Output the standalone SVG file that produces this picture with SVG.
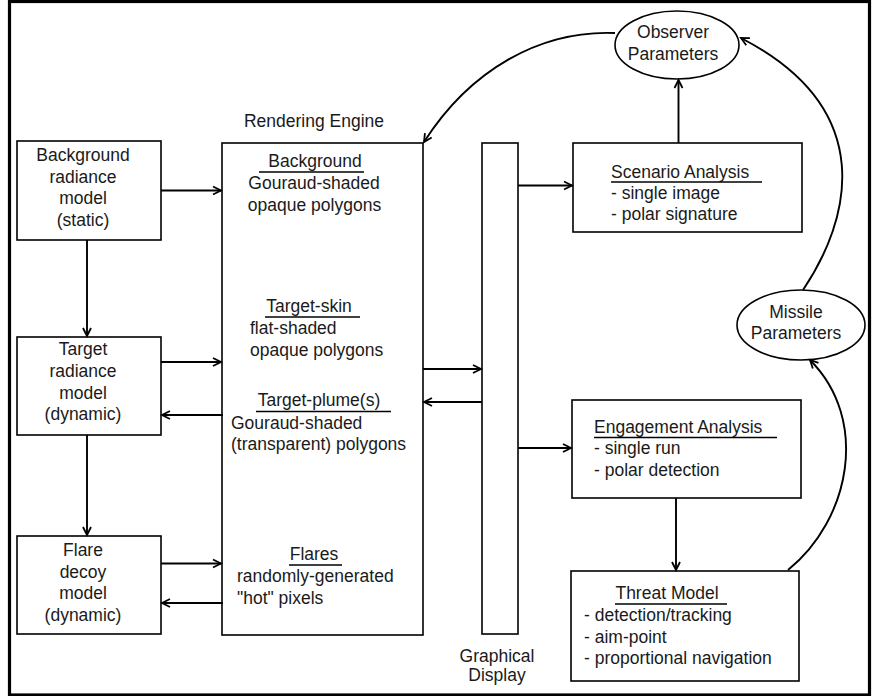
<svg xmlns="http://www.w3.org/2000/svg" width="873" height="696" viewBox="0 0 873 696">
<style>
.box{fill:#fff;stroke:#000;stroke-width:1.6}
.t{font-family:"Liberation Sans",Arial,sans-serif;font-size:17.5px;fill:#1a1a1a}
.m{text-anchor:middle}
.ul{stroke:#000;stroke-width:1.6}
.c{fill:none;stroke:#000;stroke-width:1.9;marker-end:url(#ah)}
</style>
<defs>
<marker id="ah" markerUnits="userSpaceOnUse" viewBox="-10 -6 12 12" refX="0" refY="0" markerWidth="12" markerHeight="12" orient="auto">
<path d="M-8,-4 L0,0 L-8,4" fill="none" stroke="#000" stroke-width="1.8"/>
</marker>
</defs>
<rect x="0" y="0" width="873" height="696" fill="#fff"/>
<rect x="9.5" y="1.5" width="860" height="693.5" fill="none" stroke="#000" stroke-width="3.2"/>

<g id="background-model">
<rect class="box" x="17" y="141" width="144" height="99"/>
<text class="t m" x="83" y="161">Background</text>
<text class="t m" x="83" y="182.5">radiance</text>
<text class="t m" x="83" y="204">model</text>
<text class="t m" x="83" y="226">(static)</text>
</g>

<g id="target-model">
<rect class="box" x="17" y="337" width="144" height="98"/>
<text class="t m" x="83" y="355">Target</text>
<text class="t m" x="83" y="377">radiance</text>
<text class="t m" x="83" y="398.5">model</text>
<text class="t m" x="83" y="420">(dynamic)</text>
</g>

<g id="flare-model">
<rect class="box" x="17" y="536" width="144" height="98"/>
<text class="t m" x="83" y="556">Flare</text>
<text class="t m" x="83" y="577.5">decoy</text>
<text class="t m" x="83" y="599">model</text>
<text class="t m" x="83" y="620.5">(dynamic)</text>
</g>

<g id="rendering-engine">
<text class="t m" x="314" y="127">Rendering Engine</text>
<rect class="box" x="222" y="143" width="201" height="492"/>
<text class="t m" x="315" y="167">Background</text>
<line class="ul" x1="259" y1="172" x2="364" y2="172"/>
<text class="t m" x="314" y="189">Gouraud-shaded</text>
<text class="t m" x="314.5" y="211">opaque polygons</text>
<text class="t m" x="309" y="312">Target-skin</text>
<line class="ul" x1="265" y1="317" x2="360" y2="317"/>
<text class="t" x="250" y="334">flat-shaded</text>
<text class="t" x="250" y="356">opaque polygons</text>
<text class="t m" x="319" y="406">Target-plume(s)</text>
<line class="ul" x1="256" y1="411.5" x2="391" y2="411.5"/>
<text class="t" x="231" y="428.5">Gouraud-shaded</text>
<text class="t" x="231" y="450">(transparent) polygons</text>
<text class="t m" x="314" y="560">Flares</text>
<line class="ul" x1="289" y1="565" x2="342" y2="565"/>
<text class="t" x="237" y="582">randomly-generated</text>
<text class="t" x="237" y="604">"hot" pixels</text>
</g>

<g id="graphical-display">
<rect class="box" x="482" y="143" width="36" height="491"/>
<text class="t m" x="497" y="661.5">Graphical</text>
<text class="t m" x="497" y="680.5">Display</text>
</g>

<g id="scenario-analysis">
<rect class="box" x="573" y="143" width="229" height="89"/>
<text class="t" x="611" y="178">Scenario Analysis</text>
<line class="ul" x1="611" y1="182" x2="762" y2="182"/>
<text class="t" x="611" y="199">- single image</text>
<text class="t" x="611" y="220">- polar signature</text>
</g>

<g id="engagement-analysis">
<rect class="box" x="572" y="400" width="229" height="98"/>
<text class="t" x="594" y="432.5">Engagement Analysis</text>
<line class="ul" x1="594" y1="437.5" x2="777" y2="437.5"/>
<text class="t" x="594" y="454">- single run</text>
<text class="t" x="594" y="476">- polar detection</text>
</g>

<g id="threat-model">
<rect class="box" x="571" y="571" width="228" height="110"/>
<text class="t m" x="667" y="599">Threat Model</text>
<line class="ul" x1="615" y1="604" x2="727" y2="604"/>
<text class="t" x="584" y="621">- detection/tracking</text>
<text class="t" x="584" y="642.5">- aim-point</text>
<text class="t" x="584" y="664">- proportional navigation</text>
</g>

<g id="observer-parameters">
<ellipse class="box" cx="677" cy="45" rx="62" ry="34"/>
<text class="t m" x="673" y="38">Observer</text>
<text class="t m" x="673" y="59.5">Parameters</text>
</g>

<g id="missile-parameters">
<ellipse class="box" cx="801" cy="325" rx="64" ry="35"/>
<text class="t m" x="796" y="317.5">Missile</text>
<text class="t m" x="796" y="339">Parameters</text>
</g>

<g id="connectors">
<line class="c" x1="161" y1="190.5" x2="221" y2="190.5"/>
<line class="c" x1="87" y1="240" x2="87" y2="336"/>
<line class="c" x1="161" y1="362" x2="221" y2="362"/>
<line class="c" x1="223" y1="415" x2="162" y2="415"/>
<line class="c" x1="87" y1="435" x2="87" y2="535"/>
<line class="c" x1="161" y1="563.5" x2="221" y2="563.5"/>
<line class="c" x1="223" y1="603" x2="162" y2="603"/>
<line class="c" x1="423" y1="369" x2="481" y2="369"/>
<line class="c" x1="482" y1="402" x2="424" y2="402"/>
<line class="c" x1="518" y1="185.5" x2="572" y2="185.5"/>
<line class="c" x1="518" y1="448" x2="571" y2="448"/>
<line class="c" x1="678.5" y1="143" x2="678.5" y2="80"/>
<line class="c" x1="676" y1="498" x2="676" y2="570"/>
<path class="c" d="M615,33 C540,30 470,70 424,142"/>
<path class="c" d="M803,290 C850,220 880,110 741,38"/>
<path class="c" d="M788,570 C850,520 870,420 810,360"/>
</g>
</svg>
